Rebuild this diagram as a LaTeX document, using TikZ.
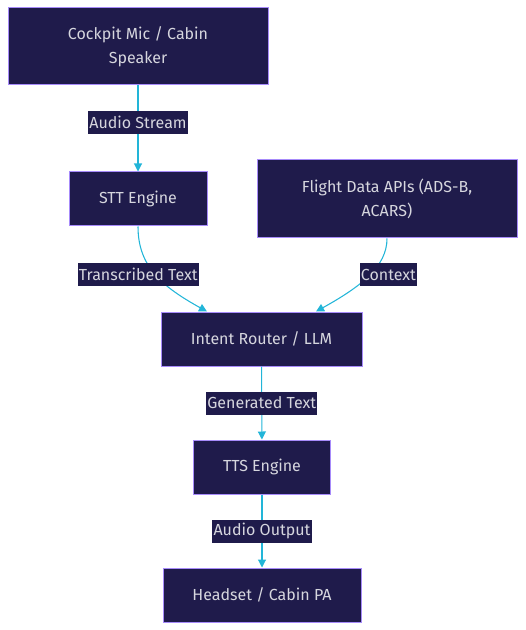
\documentclass[tikz,border=0pt]{standalone}
\usepackage{fontspec}
\setmainfont{Fira Sans}
\usetikzlibrary{arrows.meta, positioning, calc}
\definecolor{boxfill}{HTML}{1F1B4B}
\definecolor{boxline}{HTML}{A78BFA}
\definecolor{boxtext}{HTML}{D6D6DE}
\definecolor{edgecol}{HTML}{22B5D8}
\tikzset{
  block/.style={draw=boxline, fill=boxfill, text=boxtext, line width=0.75pt, align=center,
    inner sep=0pt, minimum height=40.5pt, font=\fontsize{12}{18}\selectfont},
  lbl/.style={fill=boxfill, text=boxtext, inner xsep=0.8pt, inner ysep=0pt,
    minimum height=17.25pt, font=\fontsize{12}{14}\selectfont},
  flow/.style={-{Triangle[length=6pt,width=6pt]}, draw=edgecol, line width=0.8pt},
}

\begin{document}
\begin{tikzpicture}[x=0.75pt, y=-0.75pt]
  \useasboundingbox (0,0) rectangle (525,630);

  \node[block, minimum width=195pt, minimum height=57.75pt] (mic) at (138,46.5) {Cockpit Mic / Cabin\\Speaker};
  \node[block, minimum width=103.5pt] (stt) at (138,199) {STT Engine};
  \node[block, minimum width=195pt, minimum height=58.5pt] (fd) at (387,199) {Flight Data APIs (ADS-B,\\ACARS)};
  \node[block, minimum width=150.75pt] (ir) at (261.5,339) {Intent Router / LLM};
  \node[block, minimum width=102.75pt] (tts) at (262,467) {TTS Engine};
  \node[block, minimum width=148.5pt] (hs) at (262,595) {Headset / Cabin PA};

  \draw[flow] (mic) -- node[lbl, pos=0.43]{Audio Stream} (stt);
  \draw[flow] (stt.south) .. controls +(0,40) and +(-45,-25) ..
    node[lbl, pos=0.5, xshift=-13pt]{Transcribed Text} ($(ir.north west)!0.23!(ir.north east)$);
  \draw[flow] (fd.south) .. controls +(0,28) and +(45,-25) ..
    node[lbl, pos=0.48, xshift=14pt]{Context} ($(ir.north west)!0.77!(ir.north east)$);
  \draw[flow] (ir) -- node[lbl]{Generated Text} (tts);
  \draw[flow] (tts) -- node[lbl]{Audio Output} (hs);
\end{tikzpicture}
\end{document}
